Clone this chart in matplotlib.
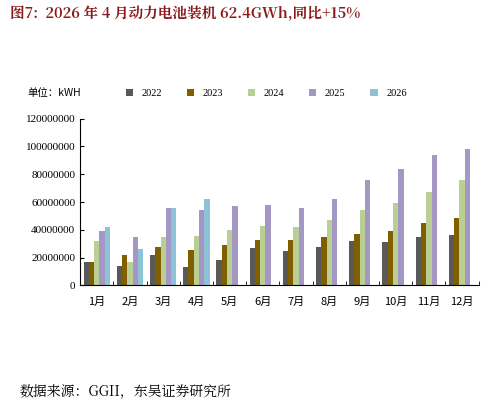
import matplotlib
matplotlib.use("Agg")
import matplotlib.pyplot as plt
import numpy as np

plt.rcParams['font.family'] = ['Noto Sans CJK SC', 'DejaVu Sans']

months = ["1月","2月","3月","4月","5月","6月","7月","8月","9月","10月","11月","12月"]
years = ["2022","2023","2024","2025","2026"]
v2022 = [17.0e6, 14.0e6, 22.0e6, 13.5e6, 18.5e6, 27.0e6, 25.0e6, 28.0e6, 32.0e6, 31.0e6, 35.0e6, 36.5e6]
v2023 = [17.0e6, 22.0e6, 28.0e6, 25.5e6, 29.0e6, 33.0e6, 33.0e6, 35.0e6, 37.0e6, 39.5e6, 45.0e6, 48.5e6]
v2024 = [32.0e6, 17.0e6, 35.0e6, 35.5e6, 40.0e6, 43.0e6, 42.0e6, 47.0e6, 54.0e6, 59.0e6, 67.0e6, 76.0e6]
v2025 = [39.0e6, 35.0e6, 56.0e6, 54.0e6, 57.0e6, 58.0e6, 56.0e6, 62.0e6, 76.0e6, 84.0e6, 93.5e6, 98.0e6]
v2026 = [42.0e6, 26.0e6, 56.0e6, 62.4e6]
colors = ["#595959", "#7f5f00", "#b9cf94", "#a597c3", "#8ec3d7"]
series = [v2022, v2023, v2024, v2025, v2026]

fig = plt.figure(figsize=(4.95, 4.09), dpi=100)
ax = fig.add_axes([0.162, 0.302, 0.805, 0.408])
x = np.arange(len(months))
w = 0.16
for i, (s, c, lab) in enumerate(zip(series, colors, years)):
    ax.bar(x[:len(s)] + (i - 2) * w, s, w, color=c, label=lab)
ax.set_xlim(-0.5, 11.5)
ax.set_ylim(0, 120e6)
ax.set_yticks(np.arange(0, 120e6 + 1, 20e6))
ax.set_yticklabels([f"{int(v)}" for v in np.arange(0, 120e6 + 1, 20e6)], fontsize=8, family=['Liberation Serif'])
ax.set_xticks(x)
ax.set_xticklabels(months, fontsize=8)
ax.set_xticks(np.arange(-0.5, 12, 1), minor=True)
ax.tick_params(axis='x', which='major', length=0, pad=8)
ax.tick_params(axis='x', which='minor', length=3, direction='in')
ax.tick_params(axis='y', length=3, direction='in')
for sp in ['top', 'right']:
    ax.spines[sp].set_visible(False)
fig.legend(loc='center left', bbox_to_anchor=(0.235, 0.772), ncol=5, frameon=False,
           handlelength=0.7, handleheight=0.7, columnspacing=2.4, prop={'family': 'Liberation Serif', 'size': 7.5})
fig.text(0.055, 0.772, "单位：kWH", fontsize=7.5, va='center')
fig.text(0.02, 0.955, "图7:  2026 年 4 月动力电池装机 62.4GWh,同比+15%", fontsize=10.5, weight='bold',
         color='#8b1a1a', family=['Noto Serif CJK SC', 'Liberation Serif', 'Noto Sans CJK SC'])
fig.text(0.04, 0.03, "数据来源：GGII，东吴证券研究所", fontsize=10,
         family=['Noto Serif CJK SC', 'Liberation Serif', 'Noto Sans CJK SC'])
fig.savefig("out.png", dpi=100)
